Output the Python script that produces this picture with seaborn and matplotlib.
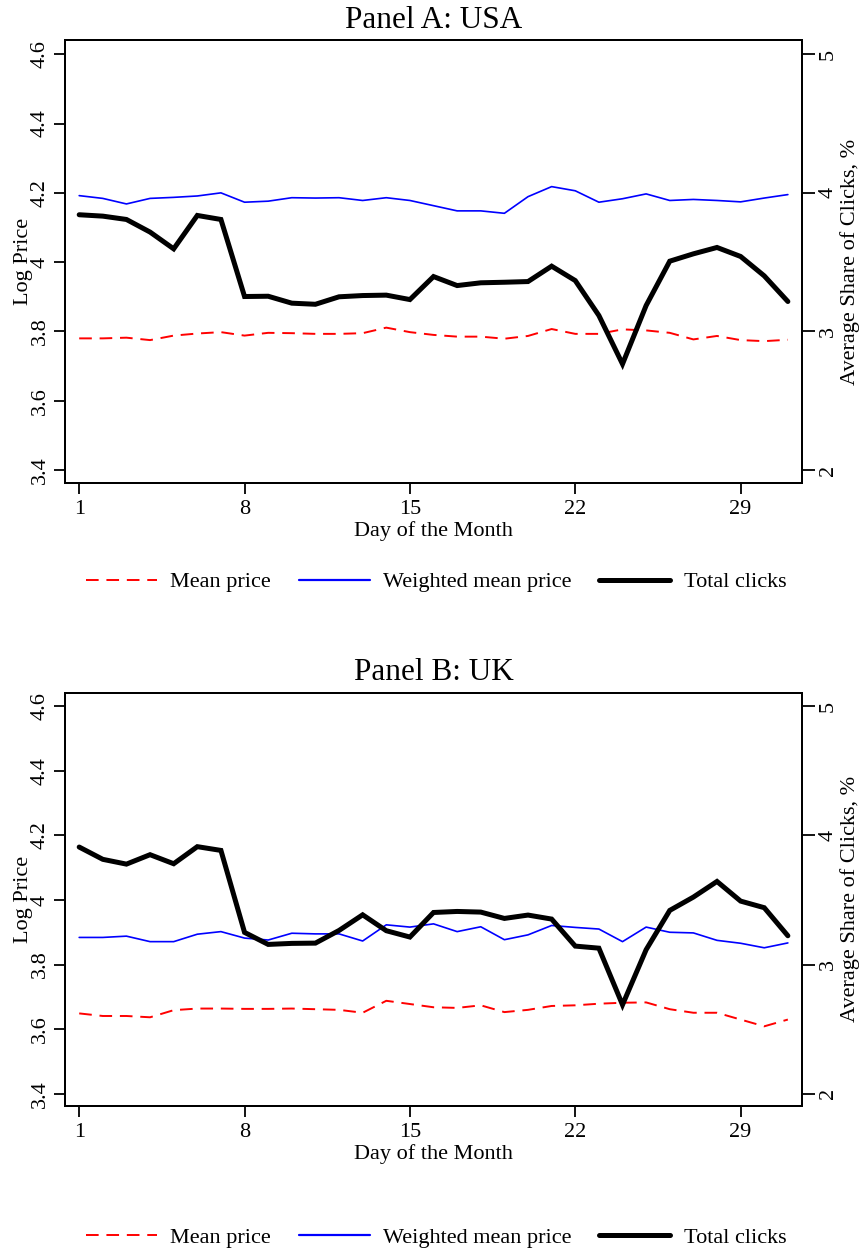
import matplotlib
matplotlib.use("Agg")
import matplotlib.pyplot as plt
import seaborn as sns
import numpy as np
import pandas as pd
from matplotlib.lines import Line2D

# ---- data -------------------------------------------------------------
days = list(range(1, 32))

usa_mean_price = [3.780, 3.780, 3.782, 3.775, 3.788, 3.794, 3.798, 3.788, 3.796, 3.795,
                  3.793, 3.793, 3.795, 3.811, 3.798, 3.790, 3.785, 3.785, 3.779, 3.787,
                  3.807, 3.793, 3.793, 3.806, 3.803, 3.796, 3.777, 3.787, 3.775, 3.772, 3.776]
usa_weighted_price = [4.192, 4.184, 4.168, 4.184, 4.187, 4.191, 4.200, 4.173, 4.176, 4.186,
                      4.185, 4.186, 4.178, 4.186, 4.178, 4.163, 4.148, 4.148, 4.141, 4.189,
                      4.218, 4.206, 4.173, 4.183, 4.197, 4.178, 4.181, 4.178, 4.174, 4.185, 4.195]
usa_clicks = [3.842, 3.832, 3.808, 3.717, 3.596, 3.837, 3.808, 3.252, 3.254, 3.204,
              3.196, 3.250, 3.259, 3.262, 3.230, 3.396, 3.331, 3.351, 3.355, 3.360,
              3.471, 3.367, 3.115, 2.765, 3.187, 3.507, 3.560, 3.606, 3.541, 3.401, 3.216]

uk_mean_price = [3.649, 3.641, 3.641, 3.637, 3.659, 3.664, 3.664, 3.663, 3.663, 3.664,
                 3.662, 3.660, 3.651, 3.688, 3.678, 3.668, 3.666, 3.674, 3.653, 3.660,
                 3.672, 3.674, 3.679, 3.682, 3.683, 3.662, 3.651, 3.651, 3.630, 3.609, 3.630]
uk_weighted_price = [3.884, 3.884, 3.888, 3.871, 3.871, 3.894, 3.902, 3.882, 3.876, 3.897,
                     3.895, 3.895, 3.873, 3.923, 3.916, 3.926, 3.902, 3.917, 3.877, 3.892,
                     3.921, 3.915, 3.910, 3.871, 3.916, 3.900, 3.898, 3.875, 3.866, 3.852, 3.867]
uk_clicks = [3.909, 3.814, 3.777, 3.850, 3.780, 3.912, 3.883, 3.249, 3.156, 3.164,
             3.166, 3.264, 3.385, 3.262, 3.213, 3.403, 3.411, 3.406, 3.357, 3.383,
             3.352, 3.143, 3.127, 2.689, 3.115, 3.419, 3.522, 3.643, 3.491, 3.440, 3.223]

panel_titles = ["Panel A: USA", "Panel B: UK"]
series_labels = ["Mean price", "Weighted mean price", "Total clicks"]
price_ticks = [3.4, 3.6, 3.8, 4.0, 4.2, 4.4, 4.6]
price_tick_labels = ["3.4", "3.6", "3.8", "4", "4.2", "4.4", "4.6"]
click_ticks = [2, 3, 4, 5]
day_ticks = [1, 8, 15, 22, 29]

# ---- style ------------------------------------------------------------
sns.set_theme(style="white")
plt.rcParams["font.family"] = ["Liberation Serif", "DejaVu Serif"]
plt.rcParams["axes.linewidth"] = 1.4
plt.rcParams["xtick.major.width"] = 1.3
plt.rcParams["ytick.major.width"] = 1.3
for key in ("text.color", "axes.labelcolor", "xtick.color", "ytick.color",
            "axes.edgecolor"):
    plt.rcParams[key] = "black"

FS = 16
RED, BLUE, BLACK = "#ff0000", "#0000ff", "#000000"
DASH = (0, (6.5, 4))

fig = plt.figure(figsize=(8.6, 12.52), dpi=100)

# axes rectangles in figure fractions (left, bottom, width, height)
rects = [(0.0756, 0.6142, 0.857, 0.3538),
         (0.0756, 0.1166, 0.857, 0.3301)]
legend_y = [0.5350, 0.0115]

panels = [(usa_mean_price, usa_weighted_price, usa_clicks),
          (uk_mean_price, uk_weighted_price, uk_clicks)]

price_lim = (3.3625, 4.641)


def to_clicks(v):
    return 2 + (v - 3.4) / 0.4


for i, (mean_p, wmean_p, clicks) in enumerate(panels):
    df = pd.DataFrame({"day": days, "mean": mean_p, "wmean": wmean_p, "clicks": clicks})
    ax = fig.add_axes(rects[i])
    ax2 = ax.twinx()

    sns.lineplot(data=df, x="day", y="mean", ax=ax, color=RED, linewidth=1.4,
                 linestyle=DASH)
    sns.lineplot(data=df, x="day", y="wmean", ax=ax, color=BLUE, linewidth=1.2)
    sns.lineplot(data=df, x="day", y="clicks", ax=ax2, color=BLACK, linewidth=3.6,
                 solid_joinstyle="miter")

    ax.set_xlim(0.4, 31.6)
    ax.set_ylim(*price_lim)
    ax2.set_ylim(to_clicks(price_lim[0]), to_clicks(price_lim[1]))

    ax.set_xticks(day_ticks)
    ax.set_xticklabels([str(d) for d in day_ticks], fontsize=FS)
    ax.set_yticks(price_ticks)
    ax.set_yticklabels(price_tick_labels, fontsize=FS, rotation=90, va="center")
    ax2.set_yticks(click_ticks)
    ax2.set_yticklabels([str(c) for c in click_ticks], fontsize=FS, rotation=90, va="center")

    ax.tick_params(axis="x", direction="out", length=8, pad=4, bottom=True)
    ax.tick_params(axis="y", direction="out", length=8, pad=3, left=True)
    ax2.tick_params(axis="y", direction="out", length=9, pad=3, right=True)

    ax.set_xlabel("Day of the Month", fontsize=FS, labelpad=2)
    ax.set_ylabel("Log Price", fontsize=FS)
    ax.yaxis.set_label_coords(-0.0434, 0.5)
    ax2.set_ylabel("Average Share of Clicks, %", fontsize=FS, rotation=90)
    ax2.yaxis.set_label_coords(1.051, 0.5)

    for a in (ax, ax2):
        for s in a.spines.values():
            s.set_color("black")
            s.set_linewidth(1.4)
        a.grid(False)

    ax.set_title(panel_titles[i], fontsize=22.5, pad=9)

    handles = [Line2D([], [], color=RED, linewidth=1.4, linestyle=DASH),
               Line2D([], [], color=BLUE, linewidth=1.6),
               Line2D([], [], color=BLACK, linewidth=3.6)]
    fig.legend(handles, series_labels, loc="center", bbox_to_anchor=(0.507, legend_y[i]),
               ncol=3, frameon=False, fontsize=FS, handlelength=3.2,
               handletextpad=0.6, columnspacing=1.25)

fig.savefig("out.png", dpi=100, facecolor="white")
